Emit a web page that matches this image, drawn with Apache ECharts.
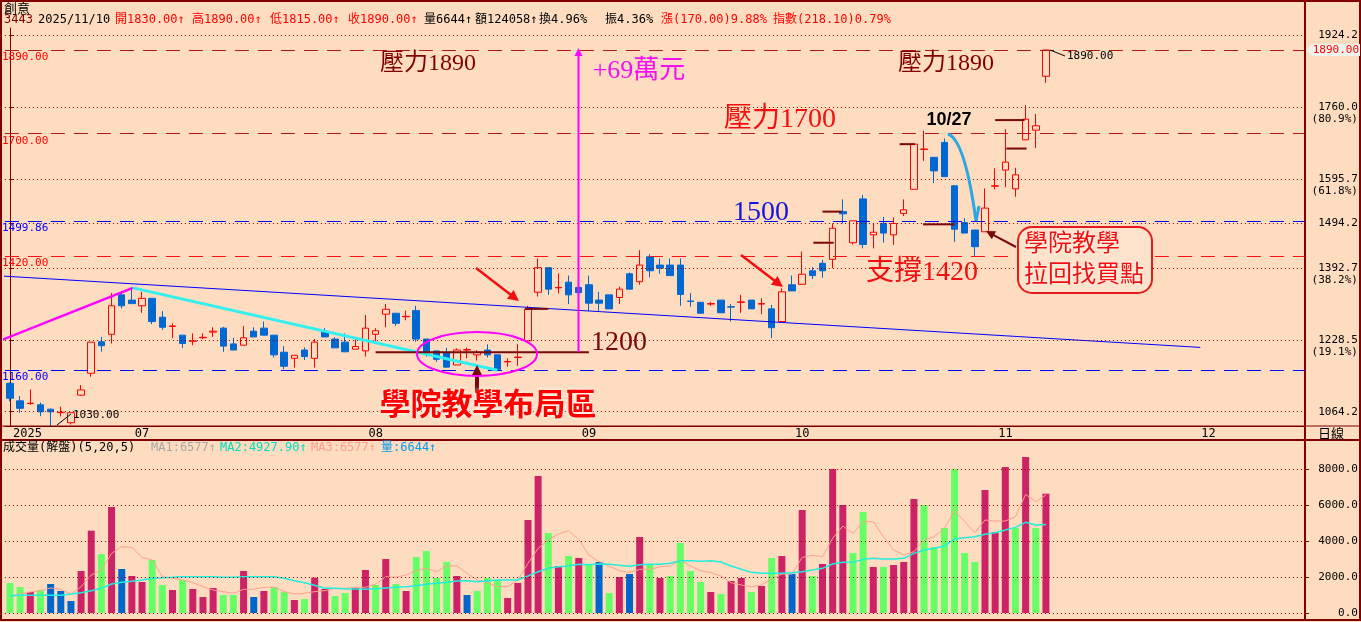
<!DOCTYPE html>
<html>
<head>
<meta charset="utf-8">
<style>
html, body { margin: 0; padding: 0; background: #FDDCC0; }
#main { width: 1361px; height: 622px; }
</style>
<script src="https://cdn.jsdelivr.net/npm/echarts@6/dist/echarts.min.js"></script>
</head>
<body>
<div id="main"></div>
<script>
// 交易日 (含未來空白日)
const jun = [13, 16, 17, 18, 19, 20, 23, 24, 25, 26, 27, 30]
const jul = [1, 2, 3, 4, 7, 8, 9, 10, 11, 14, 15, 16, 17, 18, 21, 22, 23, 24, 25, 28, 29, 30, 31]
const aug = [1, 4, 5, 6, 7, 8, 11, 12, 13, 14, 15, 18, 19, 20, 21, 22, 25, 26, 27, 28, 29]
const sep = [1, 2, 3, 4, 5, 8, 9, 10, 11, 12, 15, 16, 17, 18, 19, 22, 23, 24, 25, 26, 30]
const oct = [1, 2, 3, 7, 8, 9, 13, 14, 15, 16, 17, 20, 21, 22, 23, 27, 28, 29, 30, 31]
const nov = [3, 4, 5, 6, 7, 10, 11, 12, 13, 14, 17, 18, 19, 20, 21, 24, 25, 26, 27, 28]
const dec = [1, 2, 3, 4, 5, 8, 9, 10, 11, 12, 15]

// 日K: [開, 收, 低, 高]
const kline = [
  [1129, 1095, 1088, 1131], [1089, 1072, 1062, 1100], [1083, 1083.5, 1080, 1115], [1080, 1064, 1054, 1085], [1070, 1064, 1030, 1071],
  [1062, 1063, 1053, 1076], [1039, 1062, 1035, 1062], [1102, 1114, 1101, 1125], [1152, 1223, 1144, 1223], [1224, 1215, 1201, 1235],
  [1241, 1306, 1220, 1335], [1331, 1306, 1300, 1340], [1319, 1311, 1310, 1344], [1306, 1323, 1290, 1338], [1323, 1270, 1264, 1323],
  [1280, 1257, 1251, 1294], [1259, 1260, 1232, 1266], [1239, 1220, 1210, 1239], [1225, 1226, 1216, 1243], [1233, 1234, 1230, 1243],
  [1246, 1248, 1235, 1257], [1255, 1214, 1201, 1258], [1219, 1205, 1205, 1233], [1216, 1233, 1216, 1260], [1248, 1235, 1235, 1257],
  [1255, 1239, 1239, 1270], [1239, 1194, 1188, 1239], [1200, 1168, 1161, 1214], [1186, 1193, 1165, 1193], [1205, 1190, 1182, 1211],
  [1186, 1223, 1165, 1230], [1246, 1235, 1235, 1255], [1230, 1210, 1210, 1234], [1223, 1201, 1201, 1243], [1207, 1213, 1207, 1230],
  [1203, 1255, 1190, 1285], [1241, 1249, 1219, 1255], [1287, 1298, 1257, 1310], [1289, 1266, 1260, 1289], [1281, 1282, 1273, 1295],
  [1295, 1230, 1224, 1306], [1230, 1201, 1190, 1230], [1203, 1184, 1178, 1203], [1198, 1166, 1166, 1210], [1171, 1205, 1171, 1209],
  [1205, 1206, 1186, 1211], [1194, 1200, 1181, 1205], [1205, 1194, 1188, 1218], [1194, 1161, 1160, 1194], [1178, 1179, 1167, 1186],
  [1188, 1189, 1169, 1219], [1226, 1298, 1226, 1306], [1337, 1393, 1327, 1414], [1393, 1344, 1331, 1393], [1347, 1348, 1334, 1380],
  [1360, 1331, 1310, 1375], [1348, 1336, 1330, 1355], [1354, 1312, 1294, 1375], [1319, 1312, 1293, 1338], [1331, 1299, 1299, 1331],
  [1325, 1344, 1310, 1350], [1379, 1344, 1344, 1382], [1361, 1399, 1354, 1433], [1418, 1386, 1371, 1424], [1399, 1392, 1379, 1414],
  [1399, 1375, 1375, 1414], [1399, 1332, 1306, 1414], [1317, 1316, 1304, 1335], [1314, 1289, 1289, 1314], [1310, 1311, 1306, 1315],
  [1319, 1290, 1290, 1319], [1304, 1303, 1270, 1310], [1314, 1315, 1290, 1331], [1319, 1299, 1299, 1319], [1310, 1311, 1287, 1323],
  [1299, 1256, 1232, 1308], [1270, 1338, 1268, 1346], [1354, 1340, 1340, 1375], [1355, 1378, 1355, 1430], [1386, 1375, 1367, 1394],
  [1403, 1386, 1370, 1411], [1412, 1483, 1392, 1494], [1521, 1516, 1494, 1549], [1450, 1500, 1446, 1500], [1550, 1446, 1437, 1559],
  [1468, 1474, 1437, 1494], [1494, 1472, 1450, 1509], [1468, 1494, 1445, 1508], [1517, 1525, 1511, 1549], [1572, 1675, 1572, 1675],
  [1663, 1664, 1637, 1706], [1645, 1614, 1586, 1645], [1679, 1601, 1601, 1688], [1580, 1481, 1452, 1580], [1496, 1472, 1472, 1506],
  [1479, 1441, 1420, 1479], [1475, 1529, 1475, 1574], [1579, 1580, 1572, 1620], [1616, 1634, 1577, 1709], [1573, 1605, 1555, 1621],
  [1685, 1732, 1685, 1764], [1707, 1717, 1666, 1744], [1830, 1890, 1815, 1890]
]

// 成交量 (張) 與顏色 r=紅 g=綠 b=藍
const volumes = [
  1671, 1448, 1169, 1281, 1615, 1225, 668, 2339, 4585, 3285,
  5903, 2450, 2060, 1726, 2951, 1559, 1281, 1838, 1336, 891,
  1392, 1002, 1002, 2339, 891, 1225, 1448, 1169, 724, 780,
  1968, 1336, 947, 1114, 1392, 2394, 1559, 3007, 1615, 1225,
  3118, 3452, 1949, 2840, 2060, 1002, 1225, 1949, 1838, 835,
  1671, 5179, 7629, 4455, 2617, 3174, 3063, 2729, 2840, 1114,
  2005, 2172, 4232, 2673, 1949, 2060, 3898, 2339, 1726, 1169,
  1058, 1782, 1949, 1169, 1503, 3063, 3174, 2172, 5735, 2060,
  2729, 8019, 6014, 3341, 5624, 2561, 2561, 2673, 2840, 6348,
  6014, 3675, 4733, 8019, 3341, 2840, 6849, 4510, 8130, 4733,
  8687, 4733, 6644
]
const volKind = ('ggrgbbbrrg' + 'rbrrggrgrr' + 'rggrbrggrg' + 'rrggrrgrgr' + 'ggggrbgggr' +
  'rrrgrgrgbg' + 'rbrgrggggr' + 'grrgrgrbrg' + 'rrrggrgrrr' + 'ggggggrrrg' + 'rgr').split('')

// 量均線
const volMa5 = [
  947, 1058, 1169, 1244, 1392, 1318, 1058, 1466, 2116, 2394,
  3322, 3694, 3657, 3100, 2951, 2023, 1930, 1838, 1689, 1466,
  1281, 1188, 1095, 1318, 1318, 1429, 1429, 1188, 1058, 1095,
  1188, 1244, 1374, 1374, 1429, 1429, 1615, 2023, 1986, 2116,
  2357, 2487, 2302, 2617, 2617, 2209, 1838, 1689, 1466, 1466,
  1838, 2766, 3601, 4065, 4399, 4585, 4102, 3230, 2858, 2617,
  2357, 2246, 2432, 2432, 2580, 2617, 2951, 2617, 2357, 2246,
  2060, 1689, 1559, 1466, 1559, 1912, 2172, 2172, 3100, 3211,
  3137, 4158, 4844, 4436, 5086, 5086, 4250, 3508, 3230, 3415,
  4065, 4250, 4714, 5698, 5086, 4473, 5179, 5123, 5123, 5364,
  6608, 6199, 6577
]
const volMa20 = [
  965, 984, 984, 984, 984, 984, 1058, 1132, 1244, 1374,
  1615, 1708, 1763, 1838, 1930, 1967, 1986, 2023, 2023, 2023,
  2023, 1986, 1986, 2023, 2023, 2023, 2023, 1930, 1800, 1689,
  1541, 1374, 1374, 1336, 1336, 1318, 1355, 1392, 1429, 1466,
  1522, 1596, 1652, 1708, 1782, 1800, 1745, 1800, 1838, 1838,
  1838, 2060, 2302, 2487, 2580, 2617, 2710, 2691, 2728, 2710,
  2654, 2599, 2691, 2710, 2710, 2766, 2914, 2914, 2877, 2914,
  2840, 2617, 2432, 2264, 2209, 2209, 2209, 2246, 2302, 2394,
  2487, 2728, 2821, 2821, 2988, 3044, 3007, 3007, 3044, 3322,
  3508, 3601, 3731, 4121, 4195, 4250, 4380, 4473, 4622, 4770,
  5049, 4900, 4928
]

// 右側價格刻度
const priceTicks = [1924.2, 1760.0, 1595.7, 1494.2, 1392.7, 1228.5, 1064.2]
const priceTickPct = ['', '(80.9%)', '(61.8%)', '', '(38.2%)', '(19.1%)', '']
const volTicks = [0, 2000, 4000, 6000, 8000]
// 水平價位線
const priceLines = [1890, 1700, 1499.86, 1420, 1160]
const priceLineColors = ['#B01818', '#B01818', '#0000FF', '#FF1010', '#0000FF']
const priceLabelColors = ['#FF0000', '#FF0000', '#0000FF', '#FF0000', '#0000FF']
// 日期軸小刻度 (索引)
const minorTicks = [11, 21, 31, 41, 51, 61, 71, 81, 91, 101, 111, 121]

// 趨勢線 [索引, 價格]
const trendLong = [[-0.8, 1374], [117.2, 1211]]
const trendUp = [[-0.8, 1228], [12.1, 1347]]
const trendDown = [[12.1, 1347], [48.0, 1159]]
const line1200 = [[36.0, 1200], [57.0, 1200]]
const markSegs = [
  [[50.7, 1299], [53.0, 1299]],
  [[80.0, 1521], [81.9, 1521]],
  [[79.1, 1450], [81.1, 1450]],
  [[87.6, 1675], [89.1, 1675]],
  [[89.9, 1492], [93.0, 1492]],
  [[97.0, 1730], [99.9, 1730]],
  [[98.1, 1665], [100.1, 1665]]
]

const BG = '#FDDCC0'
const DARK = '#800000'
const UPRED = '#FF0000'
const DOWNBLUE = '#0068D0'
const MONO = "'DejaVu Sans Mono','Noto Sans CJK TC',monospace"
const CJK = "'Noto Sans CJK TC',sans-serif"
const SERIF = "'Liberation Serif','Noto Sans CJK TC',serif"
const volColors = { r: '#CC2266', g: '#66FF66', b: '#0066CC' }

const dates = []
;[['06', jun], ['07', jul], ['08', aug], ['09', sep], ['10', oct], ['11', nov], ['12', dec]].forEach(function (m) {
  m[1].forEach(function (d) { dates.push(m[0] + '/' + (d < 10 ? '0' + d : d)) })
})
const monthStart = {}
dates.forEach(function (d, i) {
  if (i === 0 || d.slice(0, 2) !== dates[i - 1].slice(0, 2)) monthStart[i] = true
})

// 圖形標註
const G = []
function seg (x1, y1, x2, y2, color, w) {
  G.push({ type: 'line', shape: { x1: x1, y1: y1, x2: x2, y2: y2 }, style: { stroke: color, lineWidth: w }, z: 50 })
}
function label (x, y, s, color, font, align, extra) {
  G.push({
    type: 'text', x: x, y: y, z: 60,
    style: Object.assign({ text: s, fill: color, font: font, align: align || 'left', verticalAlign: 'middle', textAlign: align || 'left', textVerticalAlign: 'middle' }, extra || {})
  })
}
function arrow (x1, y1, x2, y2, color, w, head) {
  const dx = x2 - x1, dy = y2 - y1, L = Math.hypot(dx, dy), ux = dx / L, uy = dy / L
  const bx = x2 - ux * head, by = y2 - uy * head
  seg(x1, y1, bx + ux, by + uy, color, w)
  G.push({
    type: 'polygon', z: 50,
    shape: { points: [[x2, y2], [bx - uy * head * 0.5, by + ux * head * 0.5], [bx + uy * head * 0.5, by - ux * head * 0.5]] },
    style: { fill: color }
  })
}

// 外框與分隔線
G.push({ type: 'rect', shape: { x: 1, y: 1, width: 1359, height: 619 }, style: { fill: null, stroke: DARK, lineWidth: 2 }, z: 40 })
seg(1305, 1, 1305, 621, DARK, 2)
seg(1, 426, 1360, 426, DARK, 1)
seg(1, 440, 1360, 440, DARK, 2)

// 標題列
label(4, 8, '創意', '#000', '13px ' + CJK)
const hdr = [
  ['3443', 4, '#800000'], ['2025/11/10', 38, '#000'], ['開1830.00↑', 115, '#FF0000'], ['高1890.00↑', 192, '#FF0000'],
  ['低1815.00↑', 270, '#FF0000'], ['收1890.00↑', 348, '#FF0000'], ['量6644↑', 424, '#000'], ['額124058↑', 475, '#000'],
  ['換4.96%', 539, '#000'], ['振4.36%', 605, '#000'], ['漲(170.00)9.88%', 661, '#FF0000'], ['指數(218.10)0.79%', 773, '#FF0000']
]
hdr.forEach(function (h) { label(h[1], 20, h[0], h[2], '12px ' + MONO) })

const vh = [
  ['成交量(解盤)(5,20,5)', 3, '#000'], ['MA1:6577↑', 151, '#A8A8A8'], ['MA2:4927.90↑', 220, '#00DDC0'],
  ['MA3:6577↑', 311, '#FF9C8C'], ['量:6644↑', 381, '#0A9CF0']
]
vh.forEach(function (h) { label(h[1], 448, h[0], h[2], '12px ' + MONO) })
label(1318, 433, '日線', '#000', '13px ' + CJK)

// 右側 1890 價格標籤
G.push({ type: 'polygon', z: 55, shape: { points: [[1306, 50], [1312, 44], [1360, 44], [1360, 56], [1312, 56]] }, style: { fill: '#EEF4EC' } })
label(1359, 50, '1890.00', '#FF0000', '11px ' + MONO, 'right')

// 最高/最低標示
seg(1050, 50, 1065, 56, '#000', 1)
label(1067, 56, '1890.00', '#000', '11px ' + MONO)
seg(57, 425, 71, 414, '#000', 1)
label(73, 415, '1030.00', '#000', '11px ' + MONO)

// 文字標註
label(428, 64, '壓力1890', DARK, '24px ' + SERIF, 'center')
label(946, 64, '壓力1890', DARK, '24px ' + SERIF, 'center')
label(639, 71, '+69萬元', '#F010F0', '26px ' + SERIF, 'center')
label(780, 120, '壓力1700', '#F01010', '28px ' + SERIF, 'center')
label(761, 213, '1500', '#1515E0', '28px ' + SERIF, 'center')
label(922, 273, '支撐1420', '#F01010', '28px ' + SERIF, 'center')
label(619, 343, '1200', '#7A0808', '28px ' + SERIF, 'center')
label(488, 403, '學院教學布局區', '#FF0000', 'bold 31px ' + CJK, 'center', { textShadowColor: '#FFFFFF', textShadowBlur: 4 })
label(949, 120, '10/27', '#000', 'bold 18px ' + "'Liberation Sans',sans-serif", 'center')

G.push({ type: 'rect', z: 45, shape: { x: 1018, y: 227, width: 134, height: 66, r: 14 }, style: { fill: '#FDE2CC', stroke: '#E41C1C', lineWidth: 2 } })
label(1024, 242, '學院教學', '#F01010', '24px ' + CJK, 'left', { textShadowColor: '#FFFFFF', textShadowBlur: 3 })
label(1024, 273, '拉回找買點', '#F01010', '24px ' + CJK, 'left', { textShadowColor: '#FFFFFF', textShadowBlur: 3 })

// 箭頭與圈選
arrow(476, 268, 519, 301, '#F01010', 2.5, 11)
arrow(741, 255, 783, 287, '#F01010', 2.5, 11)
arrow(1016, 247, 986, 231, '#7A0808', 2, 9)
arrow(477, 393, 477, 365, '#7A0808', 4, 11)
arrow(578.5, 352, 578.5, 48, '#FF00FF', 2, 8)
G.push({ type: 'ellipse', z: 50, shape: { cx: 477, cy: 354, rx: 60, ry: 22 }, style: { fill: null, stroke: '#FF00FF', lineWidth: 2 } })
G.push({ type: 'bezierCurve', z: 50, shape: { x1: 948, y1: 134, cpx1: 965, cpy1: 140, x2: 976, y2: 221 }, style: { fill: null, stroke: '#2AA8E2', lineWidth: 3 } })
seg(976, 221, 979, 206, '#2AA8E2', 3)

function overlay (data, color, width, z) {
  return {
    type: 'line', xAxisIndex: 2, yAxisIndex: 0, data: data, symbol: 'none', clip: false, silent: true, z: z || 5,
    lineStyle: { color: color, width: width }, animation: false
  }
}

const series = [
  {
    type: 'candlestick', xAxisIndex: 0, yAxisIndex: 0, data: kline, barWidth: 7, z: 3,
    itemStyle: { color: BG, color0: DOWNBLUE, borderColor: UPRED, borderColor0: DOWNBLUE, borderWidth: 1 },
    markLine: {
      symbol: ['none', 'none'], silent: true, animation: false,
      label: { show: true, position: 'insideStartBottom', fontFamily: MONO, fontSize: 11, distance: [-3, 2] },
      data: priceTicks.map(function (v) {
        return { yAxis: v, lineStyle: { color: DARK, type: [1, 3], width: 1 }, label: { show: false } }
      }).concat(priceLines.map(function (p, k) {
        return { yAxis: p, lineStyle: { color: priceLineColors[k], type: [14, 9], width: 1 }, label: { formatter: p.toFixed(2), color: priceLabelColors[k] } }
      }))
    }
  },
  overlay(trendLong, '#0000FF', 1, 4),
  overlay(trendUp, '#FF00FF', 2.5, 6),
  overlay(trendDown, '#33F0F0', 3, 6),
  overlay(line1200, '#7A0808', 2, 6),
  {
    type: 'bar', xAxisIndex: 1, yAxisIndex: 1, barWidth: 7,
    data: volumes.map(function (v, i) { return { value: v, itemStyle: { color: volColors[volKind[i]] } } }),
    markLine: {
      symbol: ['none', 'none'], silent: true, animation: false, label: { show: false },
      lineStyle: { color: DARK, type: [1, 3], width: 1 },
      data: volTicks.map(function (v) { return { yAxis: v } })
    }
  },
  { type: 'line', xAxisIndex: 1, yAxisIndex: 1, data: volMa5, symbol: 'none', lineStyle: { color: '#FFA090', width: 1 } },
  { type: 'line', xAxisIndex: 1, yAxisIndex: 1, data: volMa20, symbol: 'none', lineStyle: { color: '#22EEDD', width: 1.5 } }
]
markSegs.forEach(function (s) { series.push(overlay(s, '#7A0808', 2, 6)) })

const chart = echarts.init(document.getElementById('main'))
chart.setOption({
  backgroundColor: BG,
  animation: false,
  grid: [
    { left: 4.92, top: 28, width: 1300, height: 398 },
    { left: 4.92, top: 451.4, width: 1300, height: 161.6 }
  ],
  xAxis: [
    {
      type: 'category', gridIndex: 0, data: dates, position: 'bottom', boundaryGap: true,
      axisLine: { lineStyle: { color: DARK } },
      axisTick: { alignWithLabel: true, length: 13, interval: function (i) { return !!monthStart[i] }, lineStyle: { color: DARK } },
      axisLabel: {
        interval: function (i) { return !!monthStart[i] },
        formatter: function (v, i) { return i === 0 ? '2025' : v.slice(0, 2) },
        align: 'left', padding: [0, 0, 0, 3], margin: 2, fontFamily: MONO, fontSize: 12, color: '#000'
      },
      splitLine: { show: false }
    },
    { type: 'category', gridIndex: 1, data: dates, show: false },
    { type: 'value', gridIndex: 0, min: -0.5, max: 127.5, show: false },
    {
      type: 'category', gridIndex: 0, data: dates, position: 'bottom', boundaryGap: true,
      axisLine: { show: false }, axisLabel: { show: false }, splitLine: { show: false },
      axisTick: { alignWithLabel: true, length: 4, interval: function (i) { return minorTicks.indexOf(i) >= 0 }, lineStyle: { color: DARK } }
    }
  ],
  yAxis: [
    {
      type: 'value', gridIndex: 0, position: 'right', min: 1031.6, max: 1940.2, scale: true,
      splitLine: { show: false },
      axisLine: { show: true, lineStyle: { color: DARK } },
      axisTick: { show: true, length: 4, customValues: priceTicks, lineStyle: { color: DARK } },
      axisLabel: {
        customValues: priceTicks, align: 'right', margin: 53, fontFamily: MONO, fontSize: 11, color: '#000', lineHeight: 12,
        formatter: function (v) {
          let k = -1
          priceTicks.forEach(function (t, j) { if (Math.abs(t - v) < 0.05) k = j })
          const s = Number(v).toFixed(1)
          return k >= 0 && priceTickPct[k] ? '\n' + s + '\n' + priceTickPct[k] : s
        }
      }
    },
    {
      type: 'value', gridIndex: 1, position: 'right', min: 0, max: 9000,
      splitLine: { show: false },
      axisLine: { show: true, lineStyle: { color: DARK } },
      axisTick: { show: true, length: 4, customValues: volTicks, lineStyle: { color: DARK } },
      axisLabel: {
        customValues: volTicks, align: 'right', margin: 53, fontFamily: MONO, fontSize: 11, color: '#000',
        formatter: function (v) { return Number(v).toFixed(1) }
      }
    }
  ],
  series: series,
  graphic: { elements: G }
})
window.onresize = function () { chart.resize() }
</script>
</body>
</html>
